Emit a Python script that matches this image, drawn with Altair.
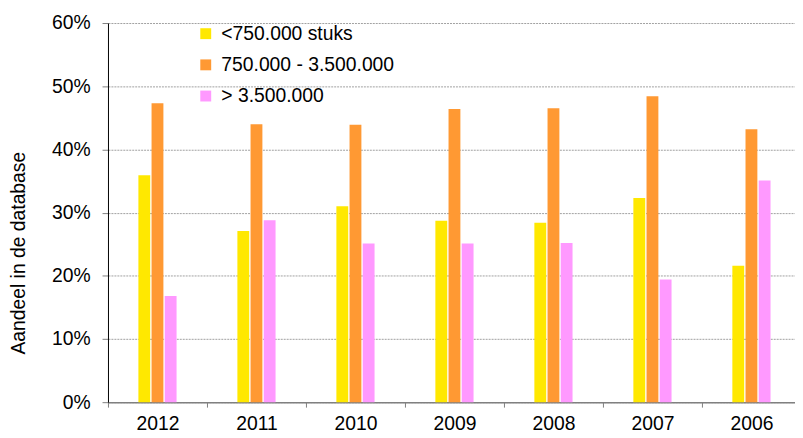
import altair as alt
import pandas as pd

years = ["2012", "2011", "2010", "2009", "2008", "2007", "2006"]
cats = ["<750.000 stuks", "\u00a0750.000 - 3.500.000", "> 3.500.000"]
colors = ["#FFE800", "#FF9933", "#FF99FF"]
small = [35.9, 27.1, 31.0, 28.7, 28.4, 32.3, 21.6]
mid = [47.3, 44.0, 43.9, 46.4, 46.5, 48.4, 43.2]
large = [16.8, 28.8, 25.1, 25.1, 25.2, 19.4, 35.1]
y_ticks = [0, 0.1, 0.2, 0.3, 0.4, 0.5, 0.6]

rows = []
for series, cat in zip([small, mid, large], cats):
    for yr, v in zip(years, series):
        rows.append({"year": yr, "cat": cat, "value": v / 100})
df = pd.DataFrame(rows)

offset_domain = ["_p1", "_p2"] + cats + ["_p3", "_p4"]

FONT = "Liberation Sans"
FS = 19.5

chart = alt.Chart(df).mark_bar().encode(
    x=alt.X("year:N", sort=years,
            scale=alt.Scale(paddingInner=0, paddingOuter=0),
            axis=alt.Axis(title=None, tickBand="extent", labelAngle=0,
                          labelFont=FONT, labelFontSize=FS, labelColor="black",
                          labelPadding=8, tickSize=5, tickColor="#808080",
                          domainColor="#808080", domainWidth=1.5, grid=False)),
    xOffset=alt.XOffset("cat:N",
                        scale=alt.Scale(domain=offset_domain, paddingInner=0.1,
                                        paddingOuter=0.31)),
    y=alt.Y("value:Q", scale=alt.Scale(domain=[0, 0.6]),
            axis=alt.Axis(title="Aandeel in de database", format=".0%", values=y_ticks,
                          labelFont=FONT, labelFontSize=FS, labelColor="black",
                          labelPadding=12, tickSize=6, tickColor="#808080",
                          domainColor="black", domainWidth=1,
                          grid=True, gridColor="#a0a0a0", gridDash=[2, 1], gridWidth=1,
                          titleFont=FONT, titleFontSize=FS, titleFontWeight="normal",
                          titleColor="black", titleAngle=270, titleX=-90, titleY=232,
                          titleAlign="center", titleBaseline="middle")),
    color=alt.Color("cat:N", sort=cats,
                    scale=alt.Scale(domain=cats, range=colors),
                    legend=alt.Legend(title=None, orient="none", legendX=89, legendY=1,
                                      symbolType="square", symbolSize=121,
                                      symbolStrokeWidth=0, labelFont=FONT,
                                      labelFontSize=FS, labelColor="black",
                                      labelOffset=6, rowPadding=10.5, padding=0,
                                      labelLimit=400)),
).properties(
    width=700, height=383,
    autosize=alt.AutoSizeParams(type="none"),
    padding={"left": 101, "top": 13, "right": -6, "bottom": 34},
).configure_view(stroke=None)

chart.save("out.html", embed_options={"renderer": "svg", "actions": False})
